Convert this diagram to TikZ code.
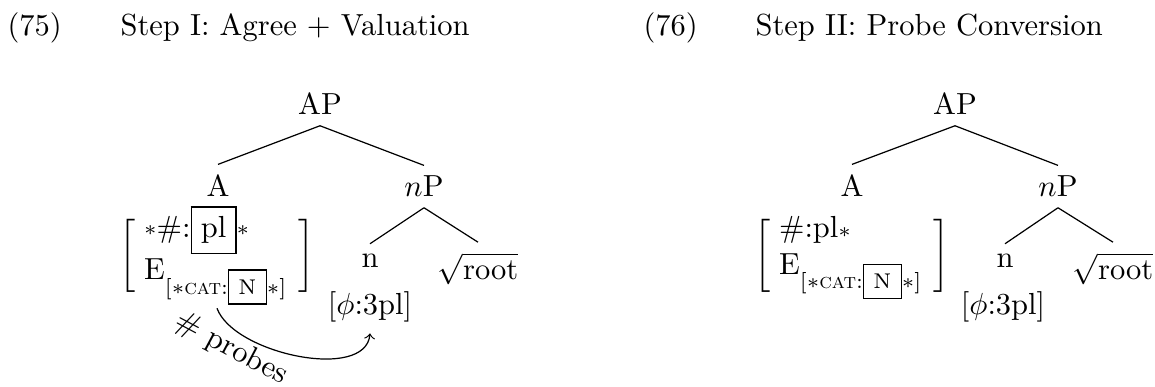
\documentclass[tikz,border=0pt]{standalone}
\usepackage{amsmath}
\newcommand{\rast}{\raisebox{0.9pt}{$\scriptstyle\ast$}}
\begin{document}
\begin{tikzpicture}[x=0.328pt,y=-0.328pt,
  lbl/.style={anchor=base,font=\fontsize{10}{12}\selectfont},
  ttl/.style={anchor=base west,inner sep=0pt,font=\fontsize{10}{12}\selectfont},
  feat/.style={anchor=center,inner sep=1pt,font=\fontsize{10}{12}\selectfont},
  edge/.style={draw,line width=0.4pt}]
\useasboundingbox (0,0) rectangle (1155,387);
% titles
\node[ttl] (t75) at (7,36) {(75)};
\node[ttl] (s75) at (120,36) {Step I: Agree + Valuation};
\node[ttl] (t76) at (643,36) {(76)};
\node[ttl] (s76) at (755,36) {Step II: Probe Conversion};
% left tree
\node[lbl] (AP1) at (320,115) {AP};
\node[lbl] (A1) at (218,197) {A};
\node[lbl] (nP1) at (424,197) {$n$P};
\node[feat] (mat1) at (217,255.5) {$\biggl[\begin{array}{@{\hspace{2.8pt}}l@{\hspace{3.5pt}}}\text{\rast}\#{:}\fbox{pl}\text{\rast}\\ \mathrm{E}_{[\ast\text{\textsc{cat}}{:}\text{\fbox{N}}\ast]}\end{array}\biggr]$};
\node[lbl] (n1) at (370,268) {n};
\node[lbl] (root1) at (478,280) {$\sqrt{\text{root}}$};
\node[lbl] (phi1) at (370,315) {[$\phi$:3pl]};
\draw[edge] (AP1.south) -- (A1.north);
\draw[edge] (AP1.south) -- (nP1.north);
\draw[edge] (nP1.south) -- (n1.north);
\draw[edge] (nP1.south) -- (root1.north);
\draw[->,line width=0.4pt] (mat1.south) to[out=-70,in=-95,looseness=0.8] (phi1.south);
\node[lbl,anchor=center,rotate=-28] (probes) at (231,349) {\# probes};
% right tree
\node[lbl] (AP2) at (955,115) {AP};
\node[lbl] (A2) at (852,197) {A};
\node[lbl] (nP2) at (1058,197) {$n$P};
\node[feat] (mat2) at (852,255.5) {$\biggl[\begin{array}{@{\hspace{2.8pt}}l@{\hspace{3.5pt}}}\#{:}\mathrm{pl}{\scriptstyle\ast}\\ \mathrm{E}_{[\ast\text{\textsc{cat}}{:}\text{\fbox{N}}\ast]}\end{array}\biggr]$};
\node[lbl] (n2) at (1005,268) {n};
\node[lbl] (root2) at (1113,280) {$\sqrt{\text{root}}$};
\node[lbl] (phi2) at (1003,315) {[$\phi$:3pl]};
\draw[edge] (AP2.south) -- (A2.north);
\draw[edge] (AP2.south) -- (nP2.north);
\draw[edge] (nP2.south) -- (n2.north);
\draw[edge] (nP2.south) -- (root2.north);
\end{tikzpicture}
\end{document}
